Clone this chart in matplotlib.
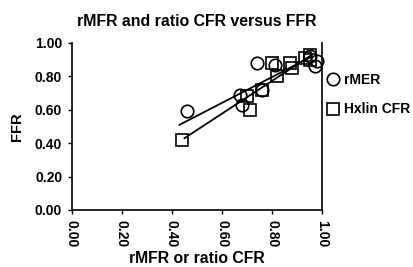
import matplotlib
matplotlib.use("Agg")
import matplotlib.pyplot as plt
import numpy as np

plt.rcParams['font.family'] = ['Liberation Sans', 'DejaVu Sans']
plt.rcParams['font.weight'] = 'bold'

title = "rMFR and ratio CFR versus FFR"
xlabel = "rMFR or ratio CFR"
ylabel = "FFR"
ticks = [0.0, 0.2, 0.4, 0.6, 0.8, 1.0]
tick_labels = ["0.00", "0.20", "0.40", "0.60", "0.80", "1.00"]

rmer_x = [0.46, 0.67, 0.68, 0.74, 0.76, 0.81, 0.95, 0.97, 0.98]
rmer_y = [0.59, 0.69, 0.63, 0.88, 0.72, 0.87, 0.92, 0.86, 0.89]
cfr_x = [0.44, 0.70, 0.71, 0.76, 0.80, 0.82, 0.87, 0.88, 0.93, 0.95, 0.95]
cfr_y = [0.42, 0.68, 0.60, 0.72, 0.88, 0.80, 0.88, 0.85, 0.91, 0.93, 0.90]

# trend lines
rmer_fit_x = [0.43, 0.96]
rmer_fit_y = [0.51, 0.92]
cfr_fit_x = [0.45, 0.96]
cfr_fit_y = [0.43, 0.93]

fig = plt.figure(figsize=(4.13, 2.67), dpi=100)
ax = fig.add_axes([0.174, 0.2135, 0.606, 0.6255])

ms = 9
ax.plot(rmer_x, rmer_y, 'o', mfc='none', mec='black', ms=ms, mew=1.2,
        label='rMER', clip_on=False)
ax.plot(cfr_x, cfr_y, 's', mfc='none', mec='black', ms=ms, mew=1.2,
        label='Hxlin CFR', clip_on=False)
ax.plot(rmer_fit_x, rmer_fit_y, color='black', lw=1.3)
ax.plot(cfr_fit_x, cfr_fit_y, color='black', lw=1.3)

ax.set_xlim(0, 1)
ax.set_ylim(0, 1)
ax.set_xticks(ticks)
ax.set_xticklabels(tick_labels, rotation=-90, fontsize=10, fontweight='bold')
ax.set_yticks(ticks)
ax.set_yticklabels(tick_labels, fontsize=10, fontweight='bold')
ax.tick_params(length=3, width=1, direction='out', pad=4)
ax.spines['top'].set_visible(False)
for s in ['left', 'bottom', 'right']:
    ax.spines[s].set_linewidth(1.2)

ax.set_title(title, fontsize=11.4, fontweight='bold', pad=12)
ax.set_xlabel(xlabel, fontsize=11.3, fontweight='bold', labelpad=3)
ax.set_ylabel(ylabel, fontsize=10.6, fontweight='bold', labelpad=8)

ax.legend(loc='center left', bbox_to_anchor=(0.978, 0.69), frameon=False,
          prop={'weight': 'bold', 'size': 10}, handlelength=1.0,
          handletextpad=0.25, labelspacing=1.1, borderaxespad=0.3)

fig.savefig("out.png", dpi=100)
